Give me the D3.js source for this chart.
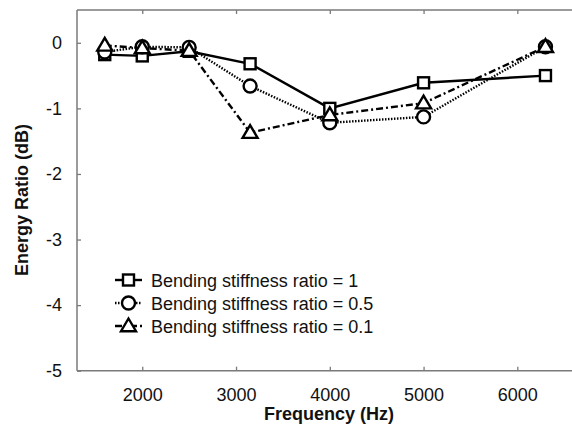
<!DOCTYPE html>
<html><head><meta charset="utf-8">
<script src="https://cdn.jsdelivr.net/npm/d3@7"></script>
<style>
body{margin:0;background:#fff;}
svg{display:block;font-family:"Liberation Sans",Arial,sans-serif;}
</style></head>
<body><svg id="c" width="572" height="427"></svg>
<script>
const frequencies = [1600, 2000, 2500, 3150, 4000, 5000, 6300];
const ratio1   = [-0.18, -0.20, -0.13, -0.32, -1.00, -0.61, -0.50];
const ratio05  = [-0.14, -0.06, -0.07, -0.66, -1.22, -1.13, -0.06];
const ratio01  = [-0.04, -0.08, -0.12, -1.37, -1.10, -0.92, -0.06];
const seriesNames = ["Bending stiffness ratio = 1", "Bending stiffness ratio = 0.5", "Bending stiffness ratio = 0.1"];
const xTicks = [2000, 3000, 4000, 5000, 6000];
const yTicks = [0, -1, -2, -3, -4, -5];
const xTitle = "Frequency (Hz)";
const yTitle = "Energy Ratio (dB)";

const series = [
  {name: seriesNames[0], values: ratio1, dash: null, marker: "square"},
  {name: seriesNames[1], values: ratio05, dash: "1.5,1.5", marker: "circle"},
  {name: seriesNames[2], values: ratio01, dash: "7,3,2,3", marker: "triangle"}
];

const svg = d3.select("#c");
const L = 77, R = 572, T = 10, B = 370.7;
const x = d3.scaleLinear().domain([1304, 6583]).range([L, R]);
const y = d3.scaleLinear().domain([-5, 0.5]).range([B, T]);
const axisColor = "#7a7a7a";

const g = svg.append("g");
g.append("line").attr("x1", L).attr("x2", R).attr("y1", T).attr("y2", T).attr("stroke", axisColor).attr("stroke-width", 1.5);
g.append("line").attr("x1", L).attr("x2", R).attr("y1", B).attr("y2", B).attr("stroke", axisColor).attr("stroke-width", 1.5);
g.append("line").attr("x1", L).attr("x2", L).attr("y1", T).attr("y2", B).attr("stroke", axisColor).attr("stroke-width", 1.5);

const xb = d3.axisBottom(x).tickValues(xTicks).tickSizeInner(-4).tickSizeOuter(0).tickFormat(d3.format("d"));
const gxb = svg.append("g").attr("transform", `translate(0,${B})`).call(xb);
const xt = d3.axisTop(x).tickValues(xTicks).tickSizeInner(-4).tickSizeOuter(0).tickFormat("");
const gxt = svg.append("g").attr("transform", `translate(0,${T})`).call(xt);
const yl = d3.axisLeft(y).tickValues(yTicks).tickSizeInner(-4).tickSizeOuter(0).tickPadding(15).tickFormat(d => d === 0 ? "0" : "-" + Math.abs(d));
const gyl = svg.append("g").attr("transform", `translate(${L},0)`).call(yl);
[gxb, gxt, gyl].forEach(a => {
  a.select(".domain").remove();
  a.selectAll(".tick line").attr("stroke", axisColor).attr("stroke-width", 1.3);
  a.selectAll(".tick text").attr("fill", "#111").style("font-size", "18px").style("font-family", '"Liberation Sans",Arial,sans-serif');
});
gxb.selectAll(".tick text").attr("dy", "0.71em").attr("y", 18);

svg.append("text").attr("x", 329).attr("y", 420).attr("text-anchor", "middle")
  .style("font-size", "18px").style("font-weight", "bold").attr("fill", "#111").text(xTitle);
svg.append("text").attr("transform", "translate(28,200) rotate(-90)").attr("text-anchor", "middle")
  .style("font-size", "18px").style("font-weight", "bold").attr("fill", "#111").text(yTitle);

function drawMarker(sel, type, cx, cy) {
  if (type === "square") {
    sel.append("rect").attr("x", cx - 5.5).attr("y", cy - 5.5).attr("width", 11).attr("height", 11)
      .attr("fill", "#fff").attr("stroke", "#000").attr("stroke-width", 2.4);
  } else if (type === "circle") {
    sel.append("circle").attr("cx", cx).attr("cy", cy).attr("r", 6.5)
      .attr("fill", "#fff").attr("stroke", "#000").attr("stroke-width", 2.4);
  } else {
    const s = 7.5;
    sel.append("path").attr("d", `M${cx},${cy - s}L${cx + s},${cy + s * 0.7}L${cx - s},${cy + s * 0.7}Z`)
      .attr("fill", "#fff").attr("stroke", "#000").attr("stroke-width", 2.4).attr("stroke-linejoin", "miter");
  }
}

const line = d3.line().x((d, i) => x(frequencies[i])).y(d => y(d));
series.forEach(s => {
  svg.append("path").datum(s.values).attr("d", line).attr("fill", "none")
    .attr("stroke", "#000").attr("stroke-width", 2.4)
    .attr("stroke-dasharray", s.dash);
});
series.forEach(s => {
  const mg = svg.append("g");
  s.values.forEach((v, i) => drawMarker(mg, s.marker, x(frequencies[i]), y(v)));
});

const legY = [280, 303, 326];
series.forEach((s, i) => {
  const lg = svg.append("g");
  lg.append("line").attr("x1", 115).attr("x2", 142).attr("y1", legY[i]).attr("y2", legY[i])
    .attr("stroke", "#000").attr("stroke-width", 2.4).attr("stroke-dasharray", s.dash);
  drawMarker(lg, s.marker, 128.5, legY[i]);
  lg.append("text").attr("x", 151).attr("y", legY[i] + 6.5).style("font-size", "18px")
    .attr("fill", "#111").text(s.name);
});
</script></body></html>
